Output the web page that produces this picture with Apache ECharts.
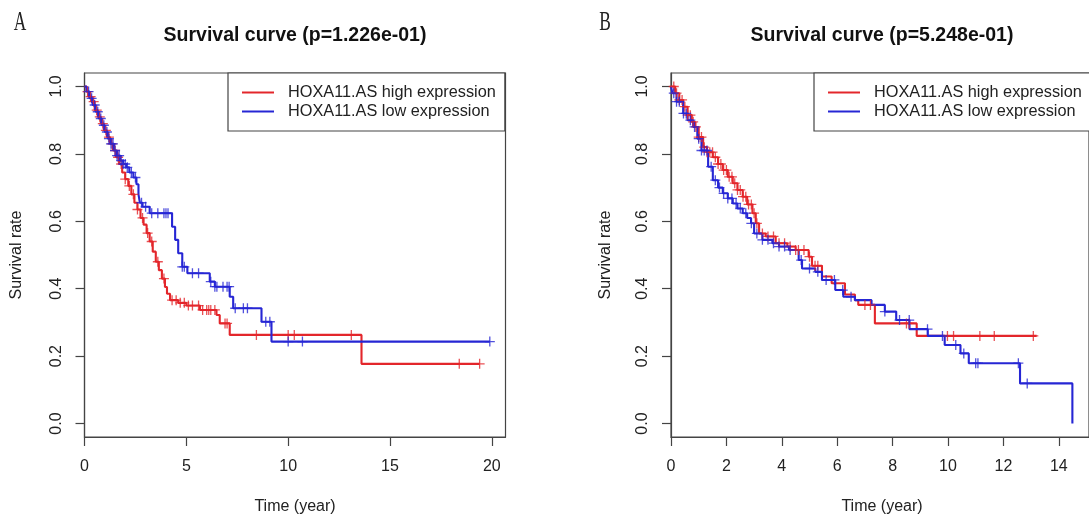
<!DOCTYPE html>
<html><head><meta charset="utf-8">
<script src="https://cdn.jsdelivr.net/npm/echarts@6/dist/echarts.min.js"></script>
<style>html,body{margin:0;padding:0;background:#fff}#c{width:1089px;height:517px}</style>
</head><body><div id="c"></div>
<script>
// ---------- data ----------
const seriesNames = ['HOXA11.AS high expression', 'HOXA11.AS low expression'];
const titles = ['Survival curve (p=1.226e-01)', 'Survival curve (p=5.248e-01)'];
const panelLetters = ['A', 'B'];
const xAxisTitle = 'Time (year)';
const yAxisTitle = 'Survival rate';
const xTicksA = [0, 5, 10, 15, 20];
const xTicksB = [0, 2, 4, 6, 8, 10, 12, 14];
const yTicks = [0, 0.2, 0.4, 0.6, 0.8, 1.0];

// Panel A, high expression: step times and survival after each step
const aHighT = [0, 0.1, 0.2, 0.35, 0.5, 0.65, 0.8, 0.95, 1.1, 1.25, 1.4, 1.55, 1.7, 1.85, 2.0, 2.15, 2.3, 2.45, 2.6, 2.75, 2.9, 3.05, 3.2, 3.35, 3.5, 3.65, 3.8, 3.95, 4.05, 4.2, 4.6, 5.0, 5.67, 6.48, 6.64, 7.13, 13.6, 19.4];
const aHighS = [1.0, 0.985, 0.97, 0.955, 0.93, 0.91, 0.89, 0.87, 0.85, 0.83, 0.81, 0.79, 0.77, 0.745, 0.725, 0.705, 0.68, 0.655, 0.635, 0.61, 0.59, 0.565, 0.54, 0.51, 0.48, 0.455, 0.43, 0.405, 0.385, 0.366, 0.358, 0.35, 0.337, 0.322, 0.297, 0.263, 0.177, 0.177];
const aHighCens = [0.15, 0.3, 0.45, 0.6, 0.75, 0.9, 1.05, 1.2, 1.35, 1.5, 1.65, 1.8, 2.0, 2.2, 2.4, 2.6, 2.85, 3.1, 3.3, 3.6, 3.9, 4.3, 4.5, 4.7, 4.9, 5.1, 5.3, 5.6, 5.8, 6.0, 6.1, 6.2, 6.4, 6.9, 7.0, 8.44, 10.0, 10.3, 13.1, 18.4, 19.4];

// Panel A, low expression
const aLowT = [0, 0.1, 0.25, 0.4, 0.55, 0.7, 0.85, 1.0, 1.15, 1.3, 1.45, 1.6, 1.75, 1.9, 2.05, 2.2, 2.4, 2.55, 2.65, 2.72, 2.85, 3.2, 4.3, 4.45, 4.6, 4.8, 5.05, 6.15, 6.4, 7.13, 7.3, 8.69, 9.18, 19.9];
const aLowS = [1.0, 0.985, 0.965, 0.945, 0.925, 0.905, 0.885, 0.865, 0.845, 0.83, 0.81, 0.795, 0.78, 0.77, 0.76, 0.745, 0.73, 0.71, 0.68, 0.655, 0.643, 0.624, 0.584, 0.545, 0.505, 0.465, 0.446, 0.421, 0.406, 0.376, 0.342, 0.302, 0.243, 0.243];
const aLowCens = [0.2, 0.35, 0.5, 0.65, 0.8, 0.95, 1.1, 1.2, 1.3, 1.4, 1.5, 1.6, 1.7, 1.8, 1.9, 2.0, 2.1, 2.3, 2.5, 2.8, 3.0, 3.3, 3.6, 3.9, 4.0, 4.1, 4.8, 4.9, 5.3, 5.6, 6.2, 6.4, 6.5, 6.8, 7.0, 7.1, 7.4, 7.8, 8.0, 8.9, 9.1, 10.0, 10.7, 19.9];

// Panel B, high expression
const bHighT = [0, 0.15, 0.3, 0.44, 0.6, 0.75, 0.86, 1.0, 1.16, 1.3, 1.51, 1.7, 1.87, 2.05, 2.23, 2.4, 2.59, 2.75, 2.94, 3.06, 3.18, 3.42, 3.78, 4.2, 4.5, 4.97, 5.09, 5.45, 5.8, 6.28, 6.64, 6.76, 7.36, 8.87, 13.2];
const bHighS = [1.0, 0.98, 0.96, 0.94, 0.915, 0.895, 0.88, 0.85, 0.82, 0.805, 0.79, 0.77, 0.752, 0.732, 0.713, 0.693, 0.673, 0.65, 0.624, 0.594, 0.564, 0.555, 0.535, 0.525, 0.515, 0.495, 0.468, 0.436, 0.416, 0.383, 0.366, 0.352, 0.297, 0.26, 0.26];
const bHighCens = [0.1, 0.2, 0.3, 0.4, 0.5, 0.6, 0.7, 0.8, 0.9, 1.0, 1.1, 1.2, 1.3, 1.4, 1.5, 1.6, 1.7, 1.8, 1.9, 2.0, 2.1, 2.2, 2.3, 2.4, 2.5, 2.6, 2.7, 2.8, 2.9, 3.0, 3.1, 3.3, 3.5, 3.7, 3.9, 4.1, 4.3, 4.5, 4.6, 4.8, 5.0, 5.2, 5.3, 7.0, 7.2, 8.5, 8.6, 9.98, 10.2, 11.15, 11.67, 13.08];

// Panel B, low expression
const bLowT = [0, 0.05, 0.2, 0.44, 0.6, 0.8, 0.95, 1.1, 1.34, 1.51, 1.7, 1.87, 2.05, 2.23, 2.4, 2.59, 2.75, 2.89, 3.0, 3.3, 3.66, 3.9, 4.26, 4.61, 4.73, 5.21, 5.45, 5.93, 6.22, 6.64, 7.24, 7.72, 8.13, 8.61, 9.27, 9.88, 10.45, 10.75, 12.6, 14.49];
const bLowS = [1.0, 0.98, 0.955, 0.92, 0.9, 0.88, 0.845, 0.81, 0.762, 0.722, 0.70, 0.683, 0.668, 0.653, 0.638, 0.624, 0.61, 0.594, 0.564, 0.545, 0.535, 0.525, 0.515, 0.485, 0.46, 0.45, 0.426, 0.396, 0.376, 0.366, 0.352, 0.332, 0.307, 0.28, 0.26, 0.233, 0.208, 0.179, 0.119, 0.0];
const bLowCens = [0.1, 0.2, 0.3, 0.45, 0.55, 0.7, 0.85, 1.0, 1.1, 1.2, 1.3, 1.45, 1.6, 1.75, 1.9, 2.05, 2.2, 2.35, 2.5, 2.7, 2.9, 3.1, 3.3, 3.5, 3.7, 3.9, 4.1, 4.3, 4.7, 5.0, 5.3, 5.6, 5.9, 6.2, 6.5, 7.72, 8.25, 8.6, 9.26, 9.8, 10.28, 10.57, 11.0, 11.08, 12.54, 12.86];

// ---------- build ----------
const RED = '#e3262b', BLUE = '#2626d4', AX = '#444', TXT = '#222';
const FONT = "'Liberation Sans', Arial, sans-serif";
const plus = 'path://M-0.13,-1H0.13V-0.13H1V0.13H0.13V1H-0.13V0.13H-1V-0.13H-0.13Z';

function pairs(T, S) { return T.map((t, i) => [t, S[i]]); }
function stepAt(T, S, t) { let v = S[0]; for (let i = 0; i < T.length; i++) { if (T[i] <= t) v = S[i]; else break; } return v; }
function cens(T, S, C) { return C.map(t => [t, stepAt(T, S, t)]); }

const grids = [
  { left: 84.5, top: 73, width: 421, height: 364 },
  { left: 671, top: 73, width: 422, height: 364 }
];
const xMax = [20.67, 15.09];
const xTicks = [xTicksA, xTicksB];

function lineS(name, data, color, gi) {
  return { type: 'line', name, data, step: 'end', showSymbol: false, symbol: 'none', xAxisIndex: gi, yAxisIndex: gi,
    lineStyle: { color, width: 2.1 }, itemStyle: { color }, animation: false, z: 3, silent: true };
}
function censS(name, data, color, gi) {
  return { type: 'scatter', name, data, symbol: plus, symbolSize: 10, xAxisIndex: gi, yAxisIndex: gi,
    itemStyle: { color }, animation: false, z: 4, silent: true };
}

const series = [
  lineS(seriesNames[0], pairs(aHighT, aHighS), RED, 0),
  lineS(seriesNames[1], pairs(aLowT, aLowS), BLUE, 0),
  censS('A high censored', cens(aHighT, aHighS, aHighCens), RED, 0),
  censS('A low censored', cens(aLowT, aLowS, aLowCens), BLUE, 0),
  lineS(seriesNames[0], pairs(bHighT, bHighS), RED, 1),
  lineS(seriesNames[1], pairs(bLowT, bLowS), BLUE, 1),
  censS('B high censored', cens(bHighT, bHighS, bHighCens), RED, 1),
  censS('B low censored', cens(bLowT, bLowS, bLowCens), BLUE, 1)
];

const xAxis = [0, 1].map(i => ({
  type: 'value', gridIndex: i, min: 0, max: xMax[i], position: 'bottom',
  splitLine: { show: false }, axisLine: { show: true, onZero: false, lineStyle: { color: AX, width: 1.2 } },
  axisTick: { show: true, inside: false, length: 9, lineStyle: { color: AX, width: 1.2 }, customValues: xTicks[i] },
  axisLabel: { customValues: xTicks[i], inside: false, margin: 22, fontSize: 16, color: TXT, fontFamily: FONT, formatter: v => String(v) }
}));
const yAxis = [0, 1].map(i => ({
  type: 'value', gridIndex: i, min: -0.04, max: 1.04, position: 'left',
  splitLine: { show: false }, axisLine: { show: true, onZero: false, lineStyle: { color: AX, width: 1.2 } },
  axisTick: { show: true, inside: false, length: 9, lineStyle: { color: AX, width: 1.2 }, customValues: yTicks },
  axisLabel: { customValues: yTicks, inside: false, rotate: 90, margin: 20, fontSize: 16, color: TXT, fontFamily: FONT, formatter: v => v.toFixed(1) }
}));

const legendLeft = [228, 814];
const legend = legendLeft.map(l => ({
  data: seriesNames, orient: 'vertical', left: l, top: 73,
  icon: 'rect', itemWidth: 32, itemHeight: 2, itemGap: 0,
  padding: [10, 9, 10, 14], borderColor: AX, borderWidth: 1.2, backgroundColor: '#fff',
  textStyle: { fontSize: 16.3, color: TXT, fontFamily: FONT, lineHeight: 19, padding: [0, 0, 0, 9] },
  selectedMode: false
}));

const centers = [295, 882];
const yTitleX = [17, 606];
const letterX = [20, 605];
const graphic = [];
for (let i = 0; i < 2; i++) {
  graphic.push({ type: 'text', x: letterX[i], y: 23, scaleX: 0.62, style: { text: panelLetters[i], font: "28px 'Liberation Serif', serif", fill: '#222', textAlign: 'center', textVerticalAlign: 'middle' } });
  graphic.push({ type: 'text', x: centers[i], y: 36, style: { text: titles[i], font: "bold 19.5px " + FONT, fill: '#111', textAlign: 'center', textVerticalAlign: 'middle' } });
  graphic.push({ type: 'text', x: centers[i], y: 507, style: { text: xAxisTitle, font: "16px " + FONT, fill: TXT, textAlign: 'center', textVerticalAlign: 'middle' } });
  graphic.push({ type: 'text', x: yTitleX[i], y: 255, rotation: Math.PI / 2, style: { text: yAxisTitle, font: "16px " + FONT, fill: TXT, textAlign: 'center', textVerticalAlign: 'middle' } });
}

const chart = echarts.init(document.getElementById('c'), null, { renderer: 'canvas' });
chart.setOption({
  backgroundColor: '#fff', animation: false,
  grid: grids.map(g => Object.assign({ show: true, borderColor: AX, borderWidth: 1.2, backgroundColor: 'transparent', containLabel: false }, g)),
  xAxis, yAxis, legend, series, graphic
});
</script></body></html>
